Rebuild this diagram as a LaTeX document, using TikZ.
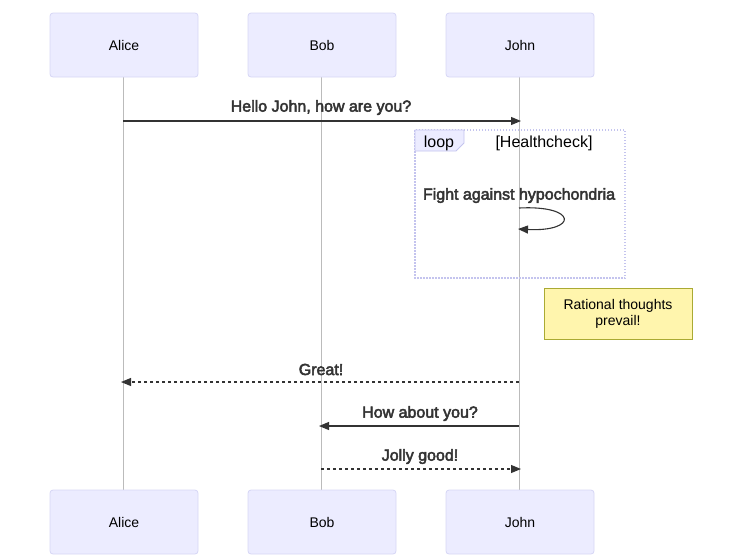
\documentclass[tikz,border=0pt]{standalone}
\usepackage{fontspec}
\setmainfont{Liberation Sans}
\newfontfamily\boldish[FakeBold=3]{Liberation Sans}
\usetikzlibrary{arrows.meta}
\definecolor{actfill}{HTML}{ECECFF}
\definecolor{actline}{HTML}{D6D6F5}
\definecolor{lifeline}{HTML}{BBBBBB}
\definecolor{ink}{HTML}{333333}
\definecolor{notefill}{HTML}{FFF5AD}
\definecolor{noteline}{HTML}{AAAA33}
\definecolor{loopline}{HTML}{C4C4EE}
\tikzset{
  actor/.style={draw=actline, fill=actfill, rounded corners=3pt, minimum width=148pt, minimum height=64pt, inner sep=0pt, font=\fontsize{14}{16}\selectfont, line width=0.8pt},
  life/.style={draw=lifeline, line width=0.7pt},
  msg/.style={draw=ink, line width=1.1pt, -{Triangle[length=10pt,width=8pt]}},
  dmsg/.style={msg, dash pattern=on 3pt off 3pt},
  msglabel/.style={font=\boldish\fontsize{16}{18}\selectfont, text=ink, inner sep=0pt},
  plainlabel/.style={font=\fontsize{16}{18}\selectfont, text=black, inner sep=0pt},
}
\begin{document}
\begin{tikzpicture}[x=1pt,y=-1pt]
\useasboundingbox (0,0) rectangle (750,558);
% lifelines
\coordinate (aT) at (123,77); \coordinate (aB) at (123,490);
\coordinate (bT) at (321,77); \coordinate (bB) at (321,490);
\coordinate (jT) at (519,77); \coordinate (jB) at (519,490);
\draw[life] (aT) -- (aB);
\draw[life] (bT) -- (bB);
\draw[life] (jT) -- (jB);
% actors
\node[actor] (alice) at (124,45) {Alice};
\node[actor] (bob) at (322,45) {Bob};
\node[actor] (john) at (520,45) {John};
\node[actor] (alice2) at (124,522) {Alice};
\node[actor] (bob2) at (322,522) {Bob};
\node[actor] (john2) at (520,522) {John};
% message 1
\coordinate (m1a) at (123,121); \coordinate (m1b) at (521,121);
\draw[msg] (m1a) -- (m1b);
\node[msglabel] (l1) at (321,107.5) {Hello John, how are you?};
% loop
\draw[loopline, line width=1.3pt, dash pattern=on 1.5pt off 1.5pt] (415,130) rectangle (625,278);
\path[fill=actfill, draw=loopline, line width=0.8pt] (415,130) -- (464,130) -- (464,143) -- (456,151) -- (415,151) -- cycle;
\node[plainlabel] (looplab) at (439,143.5) {loop};
\node[plainlabel] (loopcond) at (544,143.5) {[Healthcheck]};
% self message
\node[msglabel] (l2) at (519,195.5) {Fight against hypochondria};
\coordinate (s1) at (519,208); \coordinate (s2) at (518,229);
\draw[draw=ink, line width=1.1pt, -{Triangle[length=10pt,width=8pt]}] (s1) .. controls (578,205) and (578,232) .. (s2);
% note
\node[draw=noteline, fill=notefill, minimum width=148pt, minimum height=51pt, inner sep=0pt, line width=0.8pt, align=center, font=\fontsize{14}{16}\selectfont] (note) at (618,313.5) {Rational thoughts\\prevail!};
% Great
\coordinate (m3a) at (519,382); \coordinate (m3b) at (121,382);
\draw[dmsg] (m3a) -- (m3b);
\node[msglabel] (l3) at (321,369.5) {Great!};
% How about you
\coordinate (m4a) at (519,426); \coordinate (m4b) at (319,426);
\draw[msg] (m4a) -- (m4b);
\node[msglabel] (l4) at (420,413.5) {How about you?};
% Jolly good
\coordinate (m5a) at (321,469); \coordinate (m5b) at (521,469);
\draw[dmsg] (m5a) -- (m5b);
\node[msglabel] (l5) at (420,456.5) {Jolly good!};
\end{tikzpicture}
\end{document}
